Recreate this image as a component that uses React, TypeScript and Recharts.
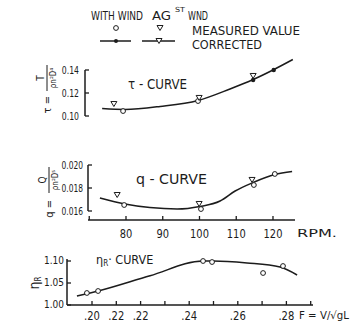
import React from 'react';
import { ComposedChart, Line, XAxis, YAxis, ReferenceLine } from 'recharts';

const INK = '#1c1c1c';
const FONT = "'DejaVu Sans Condensed', 'Liberation Sans Narrow', 'DejaVu Sans', sans-serif";

// ---------- shared RPM axis ----------
const rpmTicks = [70, 80, 90, 100, 110, 120];
const rpmTickLabels = ['', '80', '90', '100', '110', '120'];

// ---------- tau curve ----------
const tauTicks = [0.10, 0.12, 0.14];
const tauTickLabels = ['0.10', '0.12', '0.14'];
const tauCurve = [
  { x: 73.5, y: 0.1065 },
  { x: 79.7, y: 0.1057 },
  { x: 89.3, y: 0.1083 },
  { x: 99.6, y: 0.1135 },
  { x: 108.3, y: 0.1235 },
  { x: 114.6, y: 0.1317 },
  { x: 120.0, y: 0.14 },
  { x: 125.4, y: 0.1491 },
];
const tauWithWind = [
  { x: 79.2, y: 0.1043 },
  { x: 99.6, y: 0.113 },
];
const tauAgainstWind = [
  { x: 76.7, y: 0.1104 },
  { x: 99.9, y: 0.1157 },
  { x: 114.6, y: 0.1348 },
];
const tauCorrected = [
  { x: 114.6, y: 0.1313 },
  { x: 120.2, y: 0.14 },
];

// ---------- q curve ----------
const qTicks = [0.016, 0.018, 0.02];
const qTickLabels = ['0.016', '0.018', '0.020'];
const qCurve = [
  { x: 72.9, y: 0.01713 },
  { x: 79.7, y: 0.01661 },
  { x: 86.5, y: 0.0163 },
  { x: 93.9, y: 0.01617 },
  { x: 100.1, y: 0.01639 },
  { x: 105.6, y: 0.01687 },
  { x: 109.7, y: 0.01774 },
  { x: 114.6, y: 0.01848 },
  { x: 120.5, y: 0.01917 },
  { x: 125.2, y: 0.01943 },
];
const qWithWind = [
  { x: 79.5, y: 0.01652 },
  { x: 100.4, y: 0.01617 },
  { x: 114.8, y: 0.01826 },
  { x: 120.5, y: 0.01922 },
];
const qAgainstWind = [
  { x: 77.6, y: 0.01739 },
  { x: 99.9, y: 0.01661 },
  { x: 114.3, y: 0.0187 },
];

// ---------- eta_R curve ----------
const fTicks = [0.2, 0.21, 0.22, 0.23, 0.24, 0.25, 0.26, 0.27, 0.28, 0.29];
const fTickLabels = ['.20', '.22', '.22', '', '.24', '', '.26', '', '.28', ''];
const etaTicks = [1.0, 1.05, 1.1];
const etaTickLabels = ['1.00', '1.05', '1.10'];
const etaCurve = [
  { x: 0.1938, y: 1.0205 },
  { x: 0.2025, y: 1.0318 },
  { x: 0.2239, y: 1.0665 },
  { x: 0.2457, y: 1.1 },
  { x: 0.2498, y: 1.1 },
  { x: 0.2638, y: 1.0955 },
  { x: 0.2774, y: 1.0864 },
  { x: 0.2844, y: 1.0682 },
];
const etaMeasured = [
  { x: 0.1979, y: 1.0273 },
  { x: 0.2025, y: 1.0318 },
  { x: 0.2457, y: 1.1 },
  { x: 0.2494, y: 1.0977 },
  { x: 0.2704, y: 1.0727 },
  { x: 0.2786, y: 1.0886 },
];

// axis domains
const TAU_X: [number, number] = [68.84, 125.99];
const TAU_Y: [number, number] = [0.09652, 0.15304];
const Q_X: [number, number] = [69.66, 125.99];
const Q_Y: [number, number] = [0.015217, 0.020435];
const F_X: [number, number] = [0.18971, 0.29095];
const ETA_Y: [number, number] = [1.0, 1.10455];

const findLabel = (ticks: number[], labels: string[], v: number) => {
  const i = ticks.findIndex((t) => Math.abs(t - v) < 1e-9);
  return i >= 0 ? labels[i] : '';
};

const makeYTick = (ticks: number[], labels: string[], charW: number, dy: number, gap: number) => (props: any) => {
  const { x, y, payload } = props;
  const label = findLabel(ticks, labels, payload.value);
  return (
    <g>
      <line x1={x} y1={y} x2={x + 4} y2={y} stroke={INK} strokeWidth={1.3} />
      {label ? (
        <text x={x - gap} y={y + dy} textAnchor="end" fontSize={11} fill={INK} fontFamily={FONT}
          textLength={label.length * charW} lengthAdjust="spacingAndGlyphs">{label}</text>
      ) : null}
    </g>
  );
};

const makeXTick = (ticks: number[], labels: string[], charW: number, dy: number, fs: number) => (props: any) => {
  const { x, y, payload } = props;
  const label = findLabel(ticks, labels, payload.value);
  return (
    <g>
      <line x1={x} y1={y} x2={x} y2={y - 4} stroke={INK} strokeWidth={1.3} />
      {label ? (
        <text x={x} y={y + dy} textAnchor="middle" fontSize={fs} fill={INK} fontFamily={FONT}
          textLength={label.length * charW} lengthAdjust="spacingAndGlyphs">{label}</text>
      ) : null}
    </g>
  );
};

const openCircle = (p: any) => (
  <circle key={`c${p.index}`} cx={p.cx} cy={p.cy} r={2.4} fill="#fff" stroke={INK} strokeWidth={1} />
);
const downTri = (p: any) => (
  <path key={`t${p.index}`} d={`M${p.cx - 3},${p.cy - 2.5} L${p.cx + 3},${p.cy - 2.5} L${p.cx},${p.cy + 2.5} Z`}
    fill="#fff" stroke={INK} strokeWidth={1} />
);
const filledDot = (p: any) => (
  <circle key={`f${p.index}`} cx={p.cx} cy={p.cy} r={2.2} fill={INK} stroke="none" />
);

const curveLine = { stroke: INK, strokeWidth: 1.5, dot: false, activeDot: false, isAnimationActive: false, type: 'monotone' as const };
const markLine = { stroke: 'none', activeDot: false, isAnimationActive: false };

function TauChart() {
  return (
    <ComposedChart width={364} height={125} margin={{ top: 55, right: 69, bottom: 5, left: 0 }}>
      <XAxis type="number" dataKey="x" domain={TAU_X} hide allowDataOverflow />
      <YAxis type="number" dataKey="y" domain={TAU_Y} width={85} ticks={tauTicks} interval={0}
        axisLine={false} tickLine={false} tickSize={0} tickMargin={0}
        tick={makeYTick(tauTicks, tauTickLabels, 4.3, 4, 6)} />
      <ReferenceLine ifOverflow="visible" stroke={INK} strokeWidth={1.5}
        segment={[{ x: TAU_X[0], y: tauTicks[0] }, { x: TAU_X[0], y: tauTicks[2] }]} />
      <Line data={tauCurve} dataKey="y" {...curveLine} />
      <Line data={tauWithWind} dataKey="y" {...markLine} dot={openCircle} />
      <Line data={tauAgainstWind} dataKey="y" {...markLine} dot={downTri} />
      <Line data={tauCorrected} dataKey="y" {...markLine} dot={filledDot} />
    </ComposedChart>
  );
}

function QChart() {
  return (
    <ComposedChart width={364} height={105} margin={{ top: 20, right: 69, bottom: 0, left: 0 }}>
      <XAxis type="number" dataKey="x" domain={Q_X} height={25} ticks={rpmTicks} interval={0}
        axisLine={{ stroke: INK, strokeWidth: 1.5 }} tickLine={false} tickSize={0} tickMargin={0}
        tick={makeXTick(rpmTicks, rpmTickLabels, 6.3, 17.5, 12.5)} />
      <YAxis type="number" dataKey="y" domain={Q_Y} width={88} ticks={qTicks} interval={0}
        axisLine={false} tickLine={false} tickSize={0} tickMargin={0}
        tick={makeYTick(qTicks, qTickLabels, 4.3, 4, 5)} />
      <ReferenceLine ifOverflow="visible" stroke={INK} strokeWidth={1.5}
        segment={[{ x: Q_X[0], y: qTicks[0] }, { x: Q_X[0], y: qTicks[2] }]} />
      <Line data={qCurve} dataKey="y" {...curveLine} />
      <Line data={qWithWind} dataKey="y" {...markLine} dot={openCircle} />
      <Line data={qAgainstWind} dataKey="y" {...markLine} dot={downTri} />
    </ComposedChart>
  );
}

function EtaChart() {
  return (
    <ComposedChart width={364} height={90} margin={{ top: 19, right: 51, bottom: 0, left: 0 }}>
      <XAxis type="number" dataKey="x" domain={F_X} height={25} ticks={fTicks} interval={0}
        axisLine={{ stroke: INK, strokeWidth: 1.5 }} tickLine={false} tickSize={0} tickMargin={0}
        tick={makeXTick(fTicks, fTickLabels, 5.3, 14.5, 12)} />
      <YAxis type="number" dataKey="y" domain={ETA_Y} width={67} ticks={etaTicks} interval={0}
        axisLine={{ stroke: INK, strokeWidth: 1.5 }} tickLine={false} tickSize={0} tickMargin={0}
        tick={makeYTick(etaTicks, etaTickLabels, 5, 3, 3)} />
      <Line data={etaCurve} dataKey="y" {...curveLine} />
      <Line data={etaMeasured} dataKey="y" {...markLine} dot={openCircle} />
    </ComposedChart>
  );
}

function Annotations() {
  const t = { fill: INK, fontFamily: FONT };
  return (
    <svg width={364} height={336} style={{ position: 'absolute', left: 0, top: 0, pointerEvents: 'none' }}>
      {/* legend header */}
      <text x={91} y={20} fontSize={11.5} textLength={52} lengthAdjust="spacingAndGlyphs" {...t}>WITH WIND</text>
      <text x={152} y={20} fontSize={11.5} textLength={19} lengthAdjust="spacingAndGlyphs" {...t}>AG</text>
      <text x={175} y={12} fontSize={7} textLength={10} lengthAdjust="spacingAndGlyphs" {...t}>ST</text>
      <text x={188} y={20} fontSize={11.5} textLength={20} lengthAdjust="spacingAndGlyphs" {...t}>WND</text>
      <circle cx={116} cy={28} r={2.4} fill="#fff" stroke={INK} strokeWidth={1} />
      <path d="M157,25.5 L163,25.5 L160,30.5 Z" fill="#fff" stroke={INK} strokeWidth={1} />
      <line x1={100} y1={41} x2={131} y2={41} stroke={INK} strokeWidth={1.5} />
      <circle cx={116} cy={41} r={2} fill={INK} />
      <line x1={142} y1={41} x2={175} y2={41} stroke={INK} strokeWidth={1.5} />
      <path d="M156,38.5 L162,38.5 L159,43.5 Z" fill="#fff" stroke={INK} strokeWidth={1} />
      <text x={192} y={34.5} fontSize={12.5} textLength={108} lengthAdjust="spacingAndGlyphs" {...t}>MEASURED VALUE</text>
      <text x={192} y={49} fontSize={12.5} textLength={70} lengthAdjust="spacingAndGlyphs" {...t}>CORRECTED</text>

      {/* tau axis label */}
      <g transform="translate(47,93) rotate(-90)">
        <text x={-3} y={4} textAnchor="end" fontSize={11} {...t}>τ =</text>
        <line x1={2} y1={0} x2={28} y2={0} stroke={INK} strokeWidth={1} />
        <text x={15} y={-3} textAnchor="middle" fontSize={10} {...t}>T</text>
        <text x={15} y={9} textAnchor="middle" fontSize={8} {...t}>ρn²D⁴</text>
      </g>
      <text x={128} y={89} fontSize={14} textLength={59} lengthAdjust="spacingAndGlyphs" {...t}>τ - CURVE</text>

      {/* q axis label */}
      <g transform="translate(49,185) rotate(-90)">
        <text x={-15} y={4} textAnchor="end" fontSize={11} {...t}>q =</text>
        <line x1={-8} y1={0} x2={18} y2={0} stroke={INK} strokeWidth={1} />
        <text x={5} y={-3} textAnchor="middle" fontSize={10} {...t}>Q</text>
        <text x={5} y={9} textAnchor="middle" fontSize={8} {...t}>ρn²D⁵</text>
      </g>
      <text x={136} y={184} fontSize={14} textLength={71} lengthAdjust="spacingAndGlyphs" {...t}>q - CURVE</text>
      <text x={297} y={237} fontSize={10} textLength={40} lengthAdjust="spacingAndGlyphs" {...t}>RPM.</text>

      {/* eta axis label */}
      <g transform="translate(39,283) rotate(-90)">
        <text x={0} y={0} textAnchor="middle" fontSize={14} {...t}>η<tspan fontSize={8} dy={2}>R</tspan></text>
      </g>
      <text x={96} y={263.5} fontSize={12.5} {...t}>η<tspan fontSize={8} dy={2}>R</tspan><tspan dy={-2}>· CURVE</tspan></text>
      <text x={299} y={319} fontSize={10.5} textLength={50} lengthAdjust="spacingAndGlyphs" {...t}>F = V/√gL</text>
    </svg>
  );
}

export default function App() {
  return (
    <div style={{ position: 'absolute', left: 0, top: 0, width: 364, height: 336, background: '#fff', overflow: 'hidden' }}>
      <div style={{ position: 'absolute', left: 0, top: 0 }}><TauChart /></div>
      <div style={{ position: 'absolute', left: 0, top: 140 }}><QChart /></div>
      <div style={{ position: 'absolute', left: 0, top: 240 }}><EtaChart /></div>
      <Annotations />
    </div>
  );
}
